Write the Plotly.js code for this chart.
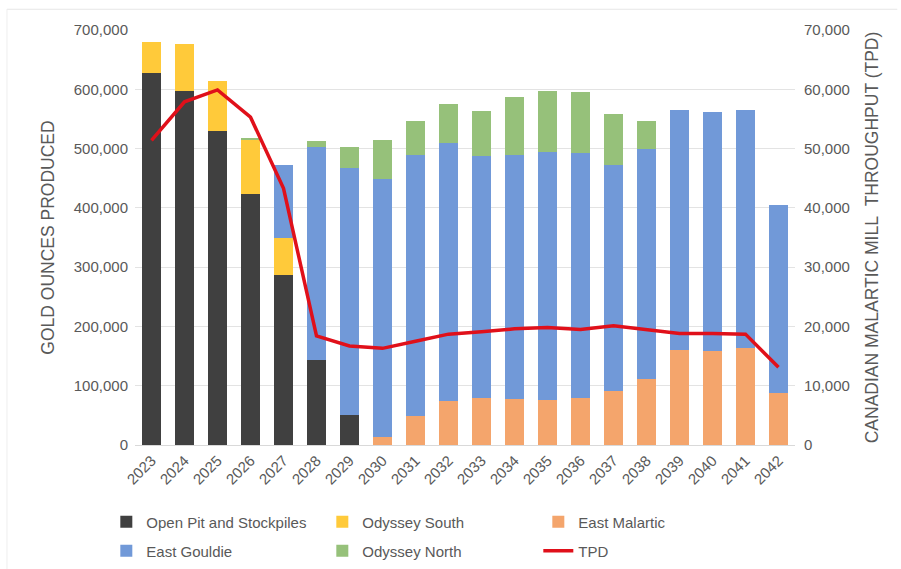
<!DOCTYPE html>
<html>
<head>
<meta charset="utf-8">
<script src="https://cdn.plot.ly/plotly-3.0.1.min.js"></script>
<style>html,body{margin:0;padding:0;background:#fff;}#chart{width:901px;height:569px;}</style>
</head>
<body>
<div id="chart"></div>
<script>
const years = ['2023','2024','2025','2026','2027','2028','2029','2030','2031','2032','2033','2034','2035','2036','2037','2038','2039','2040','2041','2042'];
const openPit      = [628000,597000,529000,424000,287000,143000,50000,0,0,0,0,0,0,0,0,0,0,0,0,0];
const eastMalartic = [0,0,0,0,0,0,0,14000,49000,74000,80000,77000,76000,79000,91000,112000,161000,159000,164000,87000];
const odysseySouth = [51000,79000,85000,90000,63000,0,0,0,0,0,0,0,0,0,0,0,0,0,0,0];
const eastGouldie  = [0,0,0,0,123000,359000,417000,434000,441000,436000,407000,413000,418000,413000,381000,387000,404000,403000,401000,318000];
const odysseyNorth = [0,0,0,3000,0,11000,36000,66000,56000,66000,77000,97000,103000,104000,86000,48000,0,0,0,0];
const tpd          = [51400,57900,59900,55300,43300,18400,16700,16300,17500,18700,19100,19600,19800,19500,20100,19400,18800,18800,18700,13100];

const gray = '#595959';
const font = {family: 'Liberation Sans, Arial, sans-serif', size: 15, color: gray};
const titleFont = {family: 'Liberation Sans, Arial, sans-serif', size: 17.5, color: gray};
const legFont = {family: 'Liberation Sans, Arial, sans-serif', size: 15, color: gray};

function bar(name, y, color, leg, rank) {
  return {type: 'bar', name: name, x: years, y: y, marker: {color: color, line: {width: 0}},
          legend: leg, legendrank: rank};
}

const traces = [
  bar('Open Pit and Stockpiles', openPit, '#404040', 'legend', 1),
  bar('East Malartic', eastMalartic, '#F4A56C', 'legend', 3),
  bar('Odyssey South', odysseySouth, '#FFCA3A', 'legend', 2),
  bar('East Gouldie', eastGouldie, '#7199D8', 'legend2', 4),
  bar('Odyssey North', odysseyNorth, '#96C17A', 'legend2', 5),
  {type: 'scatter', mode: 'lines', name: 'TPD', x: years, y: tpd, yaxis: 'y2',
   line: {color: '#E0101A', width: 3.5}, legend: 'legend2', legendrank: 6}
];

function leg(y) {
  return {orientation: 'h', xref: 'container', yref: 'container', x: 0.118, xanchor: 'left',
          y: y, yanchor: 'middle', entrywidth: 171, font: legFont, itemwidth: 30,
          traceorder: 'normal', bgcolor: 'rgba(0,0,0,0)'};
}

const layout = {
  width: 901, height: 569,
  margin: {l: 135, r: 106, t: 30, b: 124},
  paper_bgcolor: '#fff', plot_bgcolor: '#fff',
  font: font,
  barmode: 'stack',
  bargap: 0.42,
  showlegend: true,
  legend: leg((569 - 522) / 569),
  legend2: leg((569 - 551) / 569),
  xaxis: {type: 'category', tickangle: -45, showgrid: false, showline: true,
          linecolor: '#d9d9d9', linewidth: 1, ticks: '', tickfont: font, zeroline: false},
  yaxis: {range: [0, 700000], dtick: 100000, tickformat: ',d', showgrid: true,
          gridcolor: '#e3e3e3', gridwidth: 1, zeroline: false, showline: false, ticks: '',
          tickfont: font, ticklabelstandoff: 6,
          title: {text: 'GOLD OUNCES PRODUCED', font: titleFont, standoff: 14}},
  yaxis2: {range: [0, 70000], dtick: 10000, tickformat: ',d', overlaying: 'y', side: 'right',
           showgrid: false, zeroline: false, showline: false, ticks: '', tickfont: font,
           ticklabelstandoff: 8,
           title: {text: 'CANADIAN MALARTIC MILL&nbsp;&nbsp;THROUGHPUT (TPD)', font: titleFont, standoff: 16}},
  shapes: [
    {type: 'line', xref: 'paper', yref: 'paper', x0: -0.194, x1: 1.155, y0: 1.05, y1: 1.05,
     line: {color: '#e6e6e6', width: 1}},
    {type: 'line', xref: 'paper', yref: 'paper', x0: -0.194, x1: -0.194, y0: 1.05, y1: -0.3,
     line: {color: '#eeeeee', width: 1}}
  ]
};

Plotly.newPlot('chart', traces, layout, {displayModeBar: false, staticPlot: true});
</script>
</body>
</html>
